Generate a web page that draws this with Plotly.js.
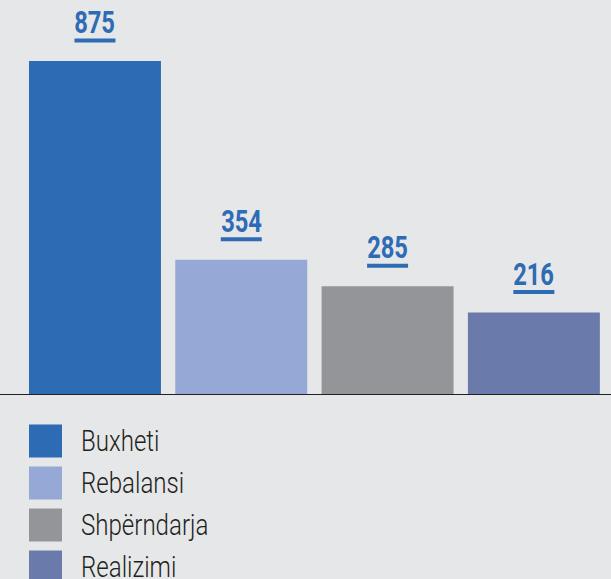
<!DOCTYPE html>
<html>
<head>
<meta charset="utf-8">
<script src="https://cdn.plot.ly/plotly-3.0.1.min.js"></script>
<style>html,body{margin:0;padding:0;background:#e6e7e8;}#chart{width:611px;height:579px;}</style>
</head>
<body>
<div id="chart"></div>
<script>
const categories = ["Buxheti", "Rebalansi", "Shpërndarja", "Realizimi"];
const values = [875, 354, 285, 216];
const colors = ["#2d6bb4", "#95a8d6", "#939598", "#6a7aab"];
const labelColor = "#2e6bb5";
const fontFam = 'Roboto, "DejaVu Sans Condensed", sans-serif';

const idx = categories.map((c, i) => i);

const barTrace = {
  type: 'bar',
  x: idx,
  y: values,
  marker: {color: colors, line: {width: 0}},
  hoverinfo: 'skip',
  showlegend: false,
  xaxis: 'x', yaxis: 'y'
};

const legendMarkers = {
  type: 'scatter', mode: 'markers',
  x: categories.map(() => 45.5),
  y: idx,
  marker: {symbol: 'square', size: 33, color: colors, line: {width: 0}},
  hoverinfo: 'skip', showlegend: false,
  xaxis: 'x2', yaxis: 'y2'
};
const legendText = {
  type: 'scatter', mode: 'text',
  x: categories.map(() => 81),
  y: idx.map(i => i + 0.07),
  text: categories,
  textposition: 'middle right',
  textfont: {family: fontFam, size: 29, weight: 300, color: '#231f20'},
  hoverinfo: 'skip', showlegend: false,
  xaxis: 'x2', yaxis: 'y2'
};

const annotations = values.map((v, i) => ({
  x: i, y: v, xref: 'x', yref: 'y',
  text: String(v),
  showarrow: false,
  yanchor: 'bottom',
  yshift: 18,
  font: {family: fontFam, size: 32, weight: 700, color: labelColor}
}));

const shapes = values.map((v, i) => ({
  type: 'rect',
  xref: 'x', yref: 'y',
  xsizemode: 'pixel', xanchor: i, x0: -20.5, x1: 20.5,
  ysizemode: 'pixel', yanchor: v, y0: 18.5, y1: 22.5,
  fillcolor: labelColor, line: {width: 0}
}));
shapes.push({
  type: 'line', xref: 'paper', yref: 'y',
  x0: 12/611 - 0.0357, x1: 1.01, y0: 0, y1: 0,
  line: {color: '#231f20', width: 2}
});

const layout = {
  width: 611, height: 579,
  margin: {l: 0, r: 0, t: 0, b: 0},
  paper_bgcolor: '#e6e7e8',
  plot_bgcolor: 'rgba(0,0,0,0)',
  bargap: 0.098,
  xaxis: {domain: [0.0357, 0.9935], range: [-0.5, 3.5], visible: false, fixedrange: true},
  yaxis: {domain: [184/579, 1], range: [0, 1034.8], visible: false, fixedrange: true},
  xaxis2: {domain: [0, 1], range: [0, 611], visible: false, anchor: 'y2', fixedrange: true},
  yaxis2: {domain: [0, 184/579], range: [3.286, -1.095], visible: false, anchor: 'x2', fixedrange: true},
  annotations: annotations,
  shapes: shapes
};

function condense(selector, k) {
  document.querySelectorAll(selector).forEach(t => {
    const w = t.getComputedTextLength();
    if (w > 0) {
      t.setAttribute('textLength', (w * k).toFixed(1));
      t.setAttribute('lengthAdjust', 'spacingAndGlyphs');
    }
  });
}

Plotly.newPlot('chart', [barTrace, legendMarkers, legendText], layout, {displayModeBar: false, staticPlot: true})
  .then(() => {
    condense('#chart .annotation-text', 0.74);
    condense('#chart .textpoint text', 0.83);
  });
</script>
</body>
</html>
